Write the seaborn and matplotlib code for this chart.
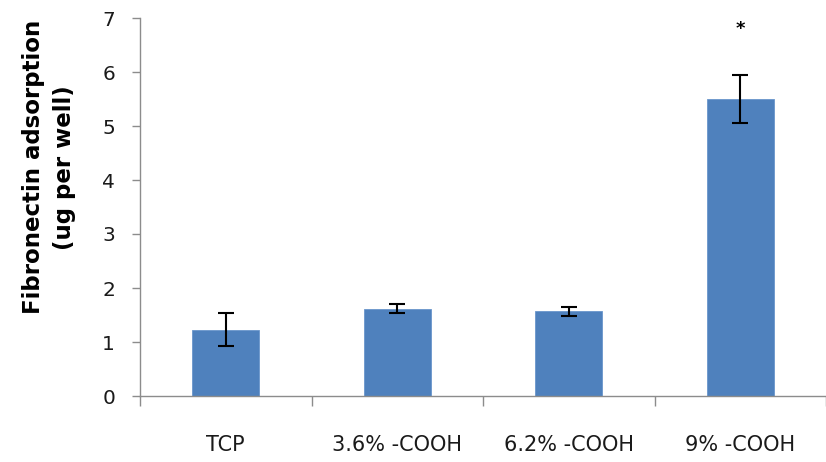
import matplotlib
matplotlib.use("Agg")
import matplotlib.pyplot as plt
import seaborn as sns
import pandas as pd

categories = ["TCP", "3.6% -COOH", "6.2% -COOH", "9% -COOH"]
values = [1.23, 1.62, 1.57, 5.50]
errors = [0.31, 0.08, 0.08, 0.44]
significance = ["", "", "", "*"]
y_ticks = [0, 1, 2, 3, 4, 5, 6, 7]

sns.set_style("white")
plt.rcParams['font.family'] = ['DejaVu Sans']

df = pd.DataFrame({"cat": categories, "val": values})

fig = plt.figure(figsize=(8.26, 4.62), dpi=100)
ax = fig.add_axes([140/826, 1-396/462, 1-140/826, (396-18)/462])

sns.barplot(data=df, x="cat", y="val", color="#4F81BD", saturation=1,
            width=0.39, errorbar=None, ax=ax, edgecolor="#6A96CC", linewidth=0.6)
ax.errorbar(range(len(categories)), values, yerr=errors, fmt="none",
            ecolor="black", elinewidth=1.5, capsize=6, capthick=1.5)
for i, s in enumerate(significance):
    if s:
        ax.text(i, values[i] + errors[i] + 0.85, s, ha="center", va="center",
                fontsize=13, fontweight="bold", color="black")

ax.set_ylim(0, 7)
ax.set_xlim(-0.5, 3.5)
ax.set_yticks(y_ticks)
ax.set_xlabel("")
ax.set_ylabel("Fibronectin adsorption\n(ug per well)", fontsize=16.5,
              fontweight="bold", linespacing=1.45, color="black")
ax.yaxis.set_label_coords(-0.093, 0.605)
for s in ["top", "right"]:
    ax.spines[s].set_visible(False)
for s in ["left", "bottom"]:
    ax.spines[s].set_color("#8C8C8C")
    ax.spines[s].set_linewidth(1.0)

ax.tick_params(axis="y", which="major", direction="out", length=6, width=1,
               color="#8C8C8C", labelsize=14.5, pad=12, left=True,
               labelcolor="#1a1a1a")
ax.set_xticks([-0.5, 0.5, 1.5, 2.5, 3.5], minor=True)
ax.tick_params(axis="x", which="minor", direction="out", length=7, width=1,
               color="#8C8C8C", bottom=True)
ax.tick_params(axis="x", which="major", length=0, labelsize=15, pad=28,
               labelcolor="#1a1a1a")

fig.savefig("out.png", dpi=100)
